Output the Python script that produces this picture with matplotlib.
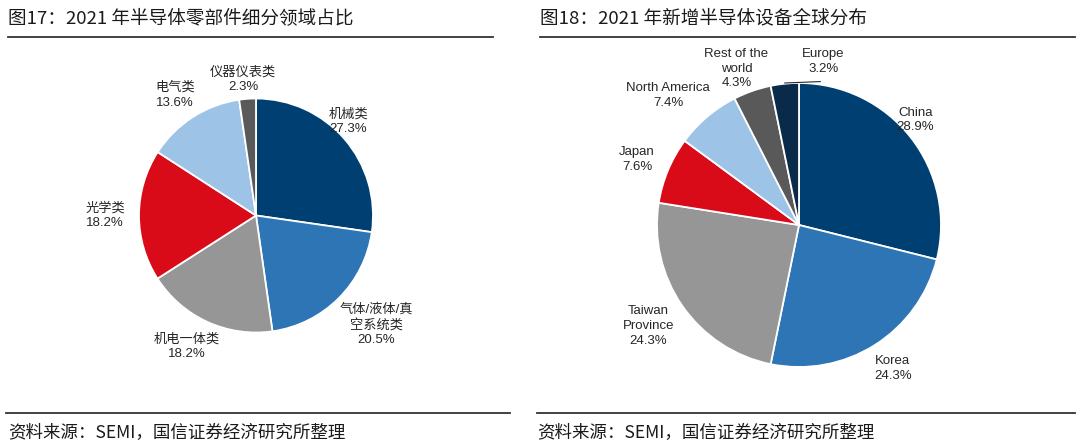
import matplotlib
matplotlib.use("Agg")
import matplotlib.pyplot as plt
import numpy as np

plt.rcParams['font.family'] = ['Liberation Sans', 'Noto Sans CJK SC', 'DejaVu Sans']

# ---- data ----
left_title = "图17：2021 年半导体零部件细分领域占比"
left_labels = ["机械类", "气体/液体/真\n空系统类", "机电一体类", "光学类", "电气类", "仪器仪表类"]
left_values = [27.3, 20.5, 18.2, 18.2, 13.6, 2.3]

right_title = "图18：2021 年新增半导体设备全球分布"
right_labels = ["China", "Korea", "Taiwan\nProvince", "Japan", "North America",
                "Rest of the\nworld", "Europe"]
right_values = [28.9, 24.3, 24.3, 7.6, 7.4, 4.3, 3.2]

source = "资料来源：SEMI，国信证券经济研究所整理"

# ---- styles / layout ----
left_colors = ["#003f72", "#2e75b6", "#969696", "#d90b18", "#9dc3e6", "#595959"]
right_colors = ["#003f72", "#2e75b6", "#969696", "#d90b18", "#9dc3e6", "#595959", "#0a2a4a"]
# label anchors in pie-radius units
left_label_xy = [(0.79, 0.80), (1.03, -0.93), (-0.59, -1.12), (-1.29, 0.0),
                 (-0.69, 1.03), (-0.11, 1.16)]
right_label_xy = [(0.82, 0.74), (0.66, -1.01), (-1.06, -0.71), (-1.14, 0.46),
                  (-0.92, 0.91), (-0.44, 1.10), (0.17, 1.15)]

W, H = 1080, 447
fig = plt.figure(figsize=(W / 100, H / 100), dpi=100)
fig.patch.set_facecolor("white")


def px_line(x0, x1, y, lw=1.3, color="#333333"):
    fig.add_artist(plt.Line2D([x0 / W, x1 / W], [1 - y / H, 1 - y / H],
                              color=color, lw=lw, transform=fig.transFigure))


def pie_panel(cx, cy, r, values, labels, colors, label_xy, fontsize):
    ax = fig.add_axes([(cx - r) / W, 1 - (cy + r) / H, 2 * r / W, 2 * r / H])
    ax.pie(values, colors=colors, startangle=90, counterclock=False, radius=1,
           wedgeprops=dict(edgecolor="white", linewidth=1.3))
    ax.set_xlim(-1, 1)
    ax.set_ylim(-1, 1)
    ax.set_aspect("equal")
    ax.axis("off")
    for lab, v, (x, y) in zip(labels, values, label_xy):
        ax.text(x, y, "{}\n{:.1f}%".format(lab, v), ha="center", va="center",
                fontsize=fontsize, color="#262626", clip_on=False, linespacing=1.3)
    return ax


# titles and rules
fig.text(8 / W, 1 - 18 / H, left_title, fontsize=13.4, va="center", ha="left",
         family=["Noto Sans CJK SC"], color="#1a1a1a")
fig.text(540 / W, 1 - 18 / H, right_title, fontsize=13.4, va="center", ha="left",
         family=["Noto Sans CJK SC"], color="#1a1a1a")
px_line(8, 493, 37)
px_line(540, 1075, 37)
px_line(6, 510, 413)
px_line(537, 1075, 413)
fig.text(8 / W, 1 - 433 / H, source, fontsize=12.6, va="center", ha="left",
         family=["Noto Sans CJK SC"], color="#1a1a1a")
fig.text(537 / W, 1 - 433 / H, source, fontsize=12.6, va="center", ha="left",
         family=["Noto Sans CJK SC"], color="#1a1a1a")

pie_panel(256, 215.5, 117, left_values, left_labels, left_colors, left_label_xy, 9.5)
axr = pie_panel(799, 225, 142, right_values, right_labels, right_colors, right_label_xy, 9.5)
# leader line for Europe
axr.plot([-0.10, 0.15], [1.0, 1.01], color="#262626", lw=0.8, clip_on=False)

fig.savefig("out.png", dpi=100, facecolor="white")
